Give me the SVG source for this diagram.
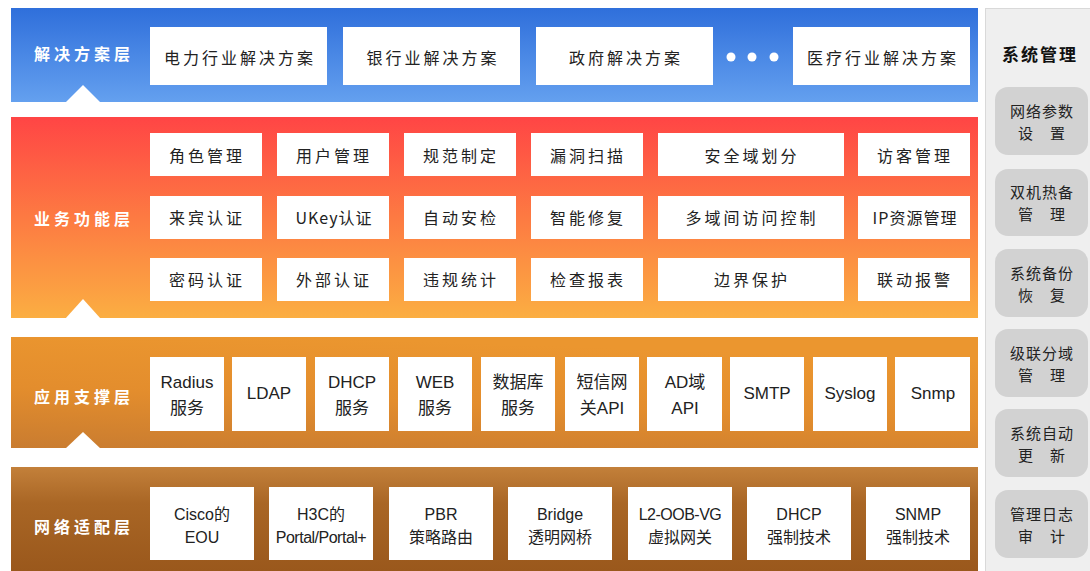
<svg xmlns="http://www.w3.org/2000/svg" width="1090" height="571" viewBox="0 0 1090 571">
<defs>
<linearGradient id="gBlue" x1="0" y1="0" x2="0" y2="1"><stop offset="0" stop-color="#2f6fdb"/><stop offset="1" stop-color="#64a0ef"/></linearGradient>
<linearGradient id="gRed" x1="0" y1="0" x2="0" y2="1"><stop offset="0" stop-color="#ff4545"/><stop offset="0.5" stop-color="#fd7a42"/><stop offset="1" stop-color="#fbae42"/></linearGradient>
<linearGradient id="gOrange" x1="0" y1="1" x2="0.3" y2="0"><stop offset="0" stop-color="#c97c30"/><stop offset="0.5" stop-color="#e38d2d"/><stop offset="1" stop-color="#eb962f"/></linearGradient>
<linearGradient id="gBrown" x1="0" y1="0" x2="0" y2="1"><stop offset="0" stop-color="#c3803a"/><stop offset="0.35" stop-color="#a96625"/><stop offset="1" stop-color="#9a581c"/></linearGradient>
</defs>
<style>
.box{fill:#ffffff}
.t{font-family:"Noto Sans CJK SC","Liberation Sans",sans-serif;font-size:16px;fill:#222;text-anchor:middle;dominant-baseline:central;letter-spacing:3px}
.e{font-family:"Liberation Sans","Noto Sans CJK SC",sans-serif;font-size:17px;fill:#222;text-anchor:middle;dominant-baseline:central}
.e2{font-family:"Liberation Sans","Noto Sans CJK SC",sans-serif;font-size:16px;fill:#222;text-anchor:middle;dominant-baseline:central}
.lab{font-family:"Noto Sans CJK SC",sans-serif;font-size:16px;font-weight:bold;fill:#ffffff;text-anchor:middle;dominant-baseline:central;letter-spacing:4px}
.btn{fill:#d2d2d2}
.bt{font-family:"Noto Sans CJK SC",sans-serif;font-size:15px;fill:#222;text-anchor:middle;dominant-baseline:central;letter-spacing:1px}
.notch{fill:#ffffff}
</style>
<rect width="1090" height="571" fill="#ffffff"/>

<g id="layer-solution">
<rect x="11" y="8" width="967" height="94" fill="url(#gBlue)"/>
<polygon class="notch" points="65,103 83,85 101,103"/>
<text class="lab" x="84" y="53">解决方案层</text>
</g>
<g id="sol-power"><rect class="box" x="150" y="27" width="177" height="58"/><text class="t" x="240" y="57">电力行业解决方案</text></g>
<g id="sol-bank"><rect class="box" x="343" y="27" width="177" height="58"/><text class="t" x="433" y="57">银行业解决方案</text></g>
<g id="sol-gov"><rect class="box" x="536" y="27" width="177" height="58"/><text class="t" x="626" y="57">政府解决方案</text></g>
<g id="sol-dots" fill="#ffffff"><circle cx="731" cy="57" r="4.5"/><circle cx="752" cy="57" r="4.5"/><circle cx="774" cy="57" r="4.5"/></g>
<g id="sol-medical"><rect class="box" x="793" y="27" width="177" height="58"/><text class="t" x="883" y="57">医疗行业解决方案</text></g>

<g id="layer-business">
<rect x="11" y="117" width="967" height="201" fill="url(#gRed)"/>
<polygon class="notch" points="65,319 83,299 101,319"/>
<text class="lab" x="84" y="218">业务功能层</text>
</g>
<g id="biz-r1c1"><rect class="box" x="150" y="133" width="112" height="43"/><text class="t" x="207" y="155">角色管理</text></g>
<g id="biz-r1c2"><rect class="box" x="277" y="133" width="112" height="43"/><text class="t" x="334" y="155">用户管理</text></g>
<g id="biz-r1c3"><rect class="box" x="404" y="133" width="112" height="43"/><text class="t" x="461" y="155">规范制定</text></g>
<g id="biz-r1c4"><rect class="box" x="531" y="133" width="112" height="43"/><text class="t" x="588" y="155">漏洞扫描</text></g>
<g id="biz-r1c5"><rect class="box" x="658" y="133" width="186" height="43"/><text class="t" x="752" y="155">安全域划分</text></g>
<g id="biz-r1c6"><rect class="box" x="858" y="133" width="112" height="43"/><text class="t" x="915" y="155">访客管理</text></g>

<g id="biz-r2c1"><rect class="box" x="150" y="196" width="112" height="43"/><text class="t" x="207" y="217">来宾认证</text></g>
<g id="biz-r2c2"><rect class="box" x="277" y="196" width="112" height="43"/><text class="t" x="334" y="217" style="letter-spacing:1px">UKey认证</text></g>
<g id="biz-r2c3"><rect class="box" x="404" y="196" width="112" height="43"/><text class="t" x="461" y="217">自动安检</text></g>
<g id="biz-r2c4"><rect class="box" x="531" y="196" width="112" height="43"/><text class="t" x="588" y="217">智能修复</text></g>
<g id="biz-r2c5"><rect class="box" x="658" y="196" width="186" height="43"/><text class="t" x="752" y="217">多域间访问控制</text></g>
<g id="biz-r2c6"><rect class="box" x="858" y="196" width="112" height="43"/><text class="t" x="915" y="217" style="letter-spacing:1px">IP资源管理</text></g>

<g id="biz-r3c1"><rect class="box" x="150" y="258" width="112" height="43"/><text class="t" x="207" y="279">密码认证</text></g>
<g id="biz-r3c2"><rect class="box" x="277" y="258" width="112" height="43"/><text class="t" x="334" y="279">外部认证</text></g>
<g id="biz-r3c3"><rect class="box" x="404" y="258" width="112" height="43"/><text class="t" x="461" y="279">违规统计</text></g>
<g id="biz-r3c4"><rect class="box" x="531" y="258" width="112" height="43"/><text class="t" x="588" y="279">检查报表</text></g>
<g id="biz-r3c5"><rect class="box" x="658" y="258" width="186" height="43"/><text class="t" x="752" y="279">边界保护</text></g>
<g id="biz-r3c6"><rect class="box" x="858" y="258" width="112" height="43"/><text class="t" x="915" y="279">联动报警</text></g>

<g id="layer-app">
<rect x="11" y="337" width="967" height="111" fill="url(#gOrange)"/>
<polygon class="notch" points="65,449 83,432 101,449"/>
<text class="lab" x="84" y="396">应用支撑层</text>
</g>
<g id="app-radius"><rect class="box" x="150" y="357" width="74" height="74"/><text class="e" x="187" y="382">Radius</text><text class="e" x="187" y="408">服务</text></g>
<g id="app-ldap"><rect class="box" x="232" y="357" width="74" height="74"/><text class="e" x="269" y="393">LDAP</text></g>
<g id="app-dhcp"><rect class="box" x="315" y="357" width="74" height="74"/><text class="e" x="352" y="382">DHCP</text><text class="e" x="352" y="408">服务</text></g>
<g id="app-web"><rect class="box" x="398" y="357" width="74" height="74"/><text class="e" x="435" y="382">WEB</text><text class="e" x="435" y="408">服务</text></g>
<g id="app-db"><rect class="box" x="481" y="357" width="74" height="74"/><text class="e" x="518" y="382">数据库</text><text class="e" x="518" y="408">服务</text></g>
<g id="app-sms"><rect class="box" x="565" y="357" width="74" height="74"/><text class="e" x="602" y="382">短信网</text><text class="e" x="602" y="408">关API</text></g>
<g id="app-ad"><rect class="box" x="647" y="357" width="75" height="74"/><text class="e" x="685" y="382">AD域</text><text class="e" x="685" y="408">API</text></g>
<g id="app-smtp"><rect class="box" x="730" y="357" width="74" height="74"/><text class="e" x="767" y="393">SMTP</text></g>
<g id="app-syslog"><rect class="box" x="813" y="357" width="74" height="74"/><text class="e" x="850" y="393">Syslog</text></g>
<g id="app-snmp"><rect class="box" x="895" y="357" width="75" height="74"/><text class="e" x="933" y="393">Snmp</text></g>

<g id="layer-net">
<rect x="11" y="467" width="967" height="104" fill="url(#gBrown)"/>
<text class="lab" x="84" y="526">网络适配层</text>
</g>
<g id="net-cisco"><rect class="box" x="150" y="487" width="104" height="73"/><text class="e2" x="202" y="514">Cisco的</text><text class="e2" x="202" y="537">EOU</text></g>
<g id="net-h3c"><rect class="box" x="269" y="487" width="104" height="73"/><text class="e2" x="321" y="514">H3C的</text><text class="e2" x="321" y="537" style="letter-spacing:-0.5px">Portal/Portal+</text></g>
<g id="net-pbr"><rect class="box" x="389" y="487" width="104" height="73"/><text class="e2" x="441" y="514">PBR</text><text class="e2" x="441" y="537">策略路由</text></g>
<g id="net-bridge"><rect class="box" x="508" y="487" width="104" height="73"/><text class="e2" x="560" y="514">Bridge</text><text class="e2" x="560" y="537">透明网桥</text></g>
<g id="net-l2"><rect class="box" x="628" y="487" width="104" height="73"/><text class="e2" x="680" y="514" style="letter-spacing:-0.5px">L2-OOB-VG</text><text class="e2" x="680" y="537">虚拟网关</text></g>
<g id="net-dhcp"><rect class="box" x="747" y="487" width="104" height="73"/><text class="e2" x="799" y="514">DHCP</text><text class="e2" x="799" y="537">强制技术</text></g>
<g id="net-snmp"><rect class="box" x="866" y="487" width="104" height="73"/><text class="e2" x="918" y="514">SNMP</text><text class="e2" x="918" y="537">强制技术</text></g>

<g id="sys-panel">
<rect x="985.5" y="8.5" width="110" height="570" fill="#efefef" stroke="#d9d9d9"/>
<text x="1040" y="53" font-family="Noto Sans CJK SC, sans-serif" font-size="17" font-weight="bold" fill="#111" text-anchor="middle" dominant-baseline="central" letter-spacing="2">系统管理</text>
</g>
<g id="sys-net"><rect class="btn" x="995" y="87" width="93" height="68" rx="13"/><text class="bt" x="1042" y="110">网络参数</text><text class="bt" x="1042" y="132">设　置</text></g>
<g id="sys-ha"><rect class="btn" x="995" y="169" width="93" height="67" rx="13"/><text class="bt" x="1042" y="191">双机热备</text><text class="bt" x="1042" y="213">管　理</text></g>
<g id="sys-backup"><rect class="btn" x="995" y="249" width="93" height="68" rx="13"/><text class="bt" x="1042" y="272">系统备份</text><text class="bt" x="1042" y="294">恢　复</text></g>
<g id="sys-cascade"><rect class="btn" x="995" y="329" width="93" height="68" rx="13"/><text class="bt" x="1042" y="352">级联分域</text><text class="bt" x="1042" y="374">管　理</text></g>
<g id="sys-update"><rect class="btn" x="995" y="409" width="93" height="68" rx="13"/><text class="bt" x="1042" y="432">系统自动</text><text class="bt" x="1042" y="454">更　新</text></g>
<g id="sys-audit"><rect class="btn" x="995" y="490" width="93" height="68" rx="13"/><text class="bt" x="1042" y="513">管理日志</text><text class="bt" x="1042" y="535">审　计</text></g>
<g id="connectors"/>
</svg>
